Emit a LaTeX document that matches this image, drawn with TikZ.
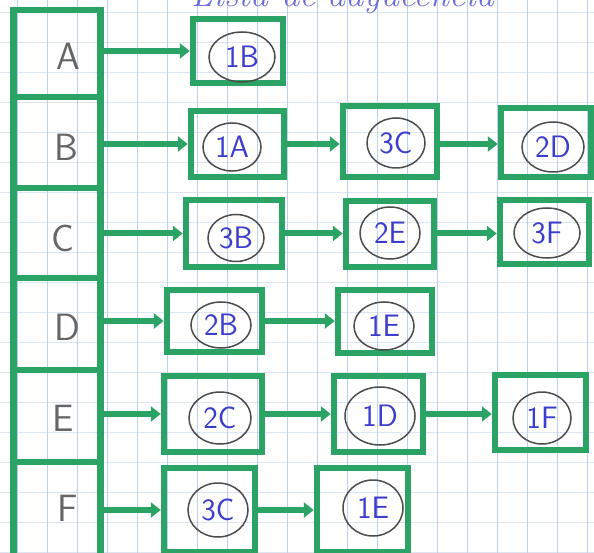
\documentclass[tikz,border=0pt]{standalone}
\usepackage{fontspec}
\usetikzlibrary{arrows.meta,shapes.geometric}
\definecolor{gr}{RGB}{42,163,100}
\definecolor{pen}{RGB}{60,60,205}
\definecolor{gridv}{RGB}{190,208,240}
\definecolor{gridh}{RGB}{222,230,242}
\tikzset{
 cell/.style={draw=gr,line width=6.5pt,minimum width=87pt,inner sep=0pt},
 box/.style={draw=gr,line width=6.5pt,inner sep=0pt},
 circ/.style={ellipse,draw=black!70,line width=1.5pt,inner sep=0pt,text=pen,font=\sffamily\fontsize{31}{31}\selectfont},
 lett/.style={text=black!60,font=\sffamily\fontsize{38}{38}\selectfont},
 arr/.style={draw=gr,line width=6pt,-{Triangle[length=10pt,width=15pt]}},
 title/.style={text=pen!75,font=\fontsize{36}{36}\selectfont\itshape}
}
\begin{document}
\begin{tikzpicture}[x=1pt,y=-1pt]
\useasboundingbox (0,0) rectangle (594,553);
\clip (0,0) rectangle (594,553);
\fill[white] (0,0) rectangle (594,553);
% graph paper
\foreach \k in {0,...,19} \draw[gridh,line width=0.8pt] (0,12+30*\k) -- (594,12+30*\k);
\foreach \k in {0,...,19} \draw[gridv,line width=1pt] (17+30*\k,0) -- (17+30*\k,553);
% title (cut off at the top, as in the reference)
\node[title,anchor=base west] (ttl) at (188,7) {Lista de adyacencia};
% left column
\node[cell,minimum height=87pt] (a) at (57,53.5) {};
\node[cell,minimum height=91pt] (b) at (57,142.5) {};
\node[cell,minimum height=90pt] (c) at (57,233) {};
\node[cell,minimum height=92pt] (d) at (57,324) {};
\node[cell,minimum height=92pt] (e) at (57,416) {};
\node[cell,minimum height=98pt] (f) at (57,511) {};
\node[lett] (la) at (68,56) {A};
\node[lett] (lb) at (66,147) {B};
\node[lett] (lc) at (63,238) {C};
\node[lett] (ld) at (67,327) {D};
\node[lett] (le) at (63,418) {E};
\node[lett] (lf) at (68,508) {F};
% list boxes
\node[box,minimum width=90pt,minimum height=64pt] (a1) at (238,51) {};
\node[box,minimum width=93pt,minimum height=66pt] (b1) at (237.5,144) {};
\node[box,minimum width=94pt,minimum height=71pt] (b2) at (390,141.5) {};
\node[box,minimum width=90pt,minimum height=69pt] (b3) at (546,142.5) {};
\node[box,minimum width=96pt,minimum height=67pt] (c1) at (234,233.5) {};
\node[box,minimum width=88pt,minimum height=66pt] (c2) at (390,234) {};
\node[box,minimum width=89pt,minimum height=64pt] (c3) at (544.5,232) {};
\node[box,minimum width=95pt,minimum height=62pt] (d1) at (214.5,321) {};
\node[box,minimum width=94pt,minimum height=63pt] (d2) at (385,321.5) {};
\node[box,minimum width=98pt,minimum height=76pt] (e1) at (213,414) {};
\node[box,minimum width=89pt,minimum height=76pt] (e2) at (378.5,414) {};
\node[box,minimum width=91pt,minimum height=75pt] (e3) at (540.5,412.5) {};
\node[box,minimum width=91pt,minimum height=84pt] (f1) at (209.5,510) {};
\node[box,minimum width=91pt,minimum height=84pt] (f2) at (362.5,510) {};
% circled entries
\node[circ,minimum width=66pt,minimum height=50pt] (ca1) at (242,57) {1B};
\node[circ,minimum width=58pt,minimum height=48pt] (cb1) at (232,147) {1A};
\node[circ,minimum width=58pt,minimum height=50pt] (cb2) at (396,143) {3C};
\node[circ,minimum width=62pt,minimum height=50pt] (cb3) at (553,147) {2D};
\node[circ,minimum width=56pt,minimum height=47pt] (cc1) at (236,238) {3B};
\node[circ,minimum width=60pt,minimum height=52pt] (cc2) at (390,233) {2E};
\node[circ,minimum width=66pt,minimum height=50pt] (cc3) at (547,233) {3F};
\node[circ,minimum width=60pt,minimum height=46pt] (cd1) at (221,325) {2B};
\node[circ,minimum width=60pt,minimum height=48pt] (cd2) at (384,326) {1E};
\node[circ,minimum width=62pt,minimum height=52pt] (ce1) at (220,418) {2C};
\node[circ,minimum width=70pt,minimum height=58pt] (ce2) at (380,416) {1D};
\node[circ,minimum width=58pt,minimum height=52pt] (ce3) at (542,418) {1F};
\node[circ,minimum width=60pt,minimum height=54pt] (cf1) at (218,510) {3C};
\node[circ,minimum width=60pt,minimum height=56pt] (cf2) at (373,508) {1E};
% arrows
\draw[arr] (a1.west -| a.east) -- (a1.west);
\draw[arr] (b1.west -| b.east) -- (b1.west);
\draw[arr] (b1.east) -- (b2.west |- b1.east);
\draw[arr] (b2.east |- b1.east) -- (b3.west |- b1.east);
\draw[arr] (c1.west -| c.east) -- (c1.west);
\draw[arr] (c1.east) -- (c2.west |- c1.east);
\draw[arr] (c2.east |- c1.east) -- (c3.west |- c1.east);
\draw[arr] (d1.west -| d.east) -- (d1.west);
\draw[arr] (d1.east) -- (d2.west |- d1.east);
\draw[arr] (e1.west -| e.east) -- (e1.west);
\draw[arr] (e1.east) -- (e2.west |- e1.east);
\draw[arr] (e2.east |- e1.east) -- (e3.west |- e1.east);
\draw[arr] (f1.west -| f.east) -- (f1.west);
\draw[arr] (f1.east) -- (f2.west |- f1.east);
\end{tikzpicture}
\end{document}
